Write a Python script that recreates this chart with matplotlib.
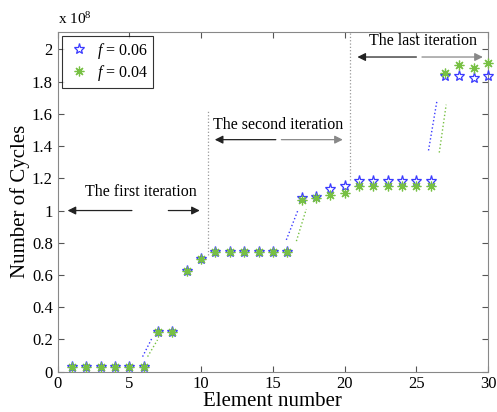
import matplotlib
matplotlib.use("Agg")
from matplotlib import pyplot as plt

plt.rcParams['font.family'] = ['Liberation Serif', 'DejaVu Serif']
plt.rcParams['mathtext.fontset'] = 'custom'
plt.rcParams['mathtext.it'] = 'Liberation Serif:italic'
plt.rcParams['mathtext.rm'] = 'Liberation Serif'

# element number and cycles (units of 1e8)
elements = list(range(1, 31))
cycles_f06 = [0.03, 0.03, 0.03, 0.03, 0.03, 0.03, 0.248, 0.245, 0.627, 0.70,
              0.745, 0.745, 0.745, 0.745, 0.745, 0.745, 1.077, 1.087, 1.133, 1.153,
              1.186, 1.186, 1.186, 1.186, 1.186, 1.186, 1.835, 1.835, 1.822, 1.835]
cycles_f04 = [0.03, 0.03, 0.03, 0.03, 0.03, 0.03, 0.248, 0.245, 0.627, 0.70,
              0.745, 0.745, 0.745, 0.745, 0.745, 0.745, 1.068, 1.075, 1.098, 1.11,
              1.15, 1.15, 1.15, 1.15, 1.15, 1.15, 1.855, 1.905, 1.885, 1.915]

# short dotted jump segments (x0, x1, y0, y1)
jumps_f06 = [(5.92, 6.57, 0.093, 0.207), (15.94, 16.78, 0.818, 1.009), (25.85, 26.43, 1.373, 1.677)]
jumps_f04 = [(6.27, 6.96, 0.093, 0.197), (16.64, 17.33, 0.81, 1.009), (26.6, 27.08, 1.36, 1.657)]

# iteration boundaries
bound_x = [10.46, 20.37]
bound_y = [(0.725, 1.625), (1.19, 2.1)]

blue = '#3a3aff'
green = '#77c043'

fig = plt.figure(figsize=(4.97, 4.12), dpi=100)
ax = fig.add_axes([0.116, 0.098, 0.866, 0.825])

for x0, x1, y0, y1 in jumps_f06:
    ax.plot([x0, x1], [y0, y1], linestyle=':', color=blue, lw=1.0)
for x0, x1, y0, y1 in jumps_f04:
    ax.plot([x0, x1], [y0, y1], linestyle=':', color=green, lw=1.0)

ax.plot(elements, cycles_f06, linestyle='none', marker='*', ms=8, mfc='none',
        mec=blue, mew=0.9, label='$f$ = 0.06', clip_on=False, zorder=3)
ax.plot(elements, cycles_f04, linestyle='none', marker=(8, 2, 0), ms=7,
        color=green, mew=0.9, label='$f$ = 0.04', clip_on=False, zorder=4)

for bx, (y0, y1) in zip(bound_x, bound_y):
    ax.plot([bx, bx], [y0, y1], linestyle=':', color='#999999', lw=0.9)

arrow = dict(arrowstyle='-|>', color='#222222', lw=0.9, mutation_scale=12)
# first iteration
ax.annotate('', xy=(0.5, 1.0), xytext=(5.37, 1.0), arrowprops=arrow)
ax.annotate('', xy=(10.1, 1.0), xytext=(7.52, 1.0), arrowprops=arrow)
ax.text(5.8, 1.115, 'The first iteration', ha='center', va='center', fontsize=11.5)
# second iteration
ax.annotate('', xy=(10.76, 1.44), xytext=(15.4, 1.44), arrowprops=arrow)
ax.annotate('', xy=(20.07, 1.44), xytext=(15.4, 1.44),
            arrowprops=dict(arrowstyle='-|>', color='#888888', lw=0.9, mutation_scale=12))
ax.text(15.4, 1.53, 'The second iteration', ha='center', va='center', fontsize=11.5)
# last iteration
ax.annotate('', xy=(20.7, 1.953), xytext=(25.2, 1.953), arrowprops=arrow)
ax.annotate('', xy=(29.83, 1.953), xytext=(25.2, 1.953),
            arrowprops=dict(arrowstyle='-|>', color='#888888', lw=0.9, mutation_scale=12))
ax.text(25.5, 2.05, 'The last iteration', ha='center', va='center', fontsize=11.5)

ax.set_xlim(0, 30)
ax.set_ylim(0, 2.11)
ax.set_xticks([0, 5, 10, 15, 20, 25, 30])
ax.set_yticks([0, 0.2, 0.4, 0.6, 0.8, 1.0, 1.2, 1.4, 1.6, 1.8, 2.0])
ax.set_yticklabels(['0', '0.2', '0.4', '0.6', '0.8', '1', '1.2', '1.4', '1.6', '1.8', '2'])
ax.tick_params(direction='in', top=True, right=True, labelsize=12, length=4, width=0.8,
               color='#555555')
for s in ax.spines.values():
    s.set_color('#888888')
ax.set_xlabel('Element number', fontsize=15, labelpad=0)
ax.set_ylabel('Number of Cycles', fontsize=15, labelpad=1)
ax.text(0.0, 1.015, 'x 10$^8$', transform=ax.transAxes, fontsize=11, ha='left', va='bottom')

leg = ax.legend(loc='upper left', fontsize=11.5, frameon=True, fancybox=False,
                borderaxespad=0.25, handletextpad=0.3, labelspacing=0.15,
                handlelength=1.6, borderpad=0.3)
leg.get_frame().set_edgecolor('black')
leg.get_frame().set_linewidth(0.8)

plt.savefig('out.png', dpi=100)
